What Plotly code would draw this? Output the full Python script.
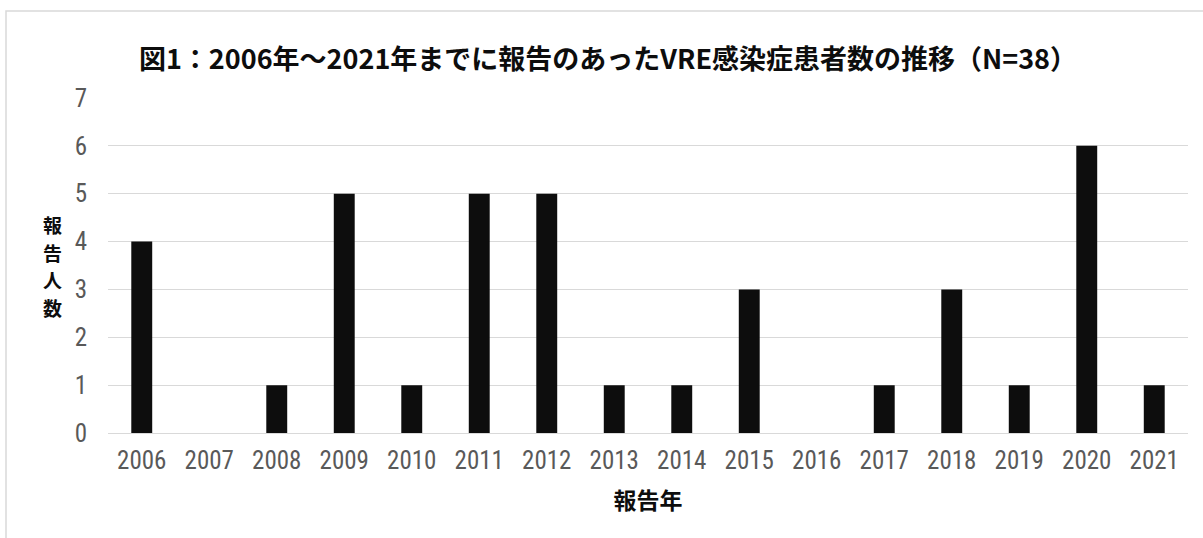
import plotly.graph_objects as go

years = [str(y) for y in range(2006, 2022)]
counts = [4, 0, 1, 5, 1, 5, 5, 1, 1, 3, 0, 1, 3, 1, 6, 1]
y_ticks = [0, 1, 2, 3, 4, 5, 6, 7]

title_text = "図1：2006年～2021年までに報告のあったVRE感染症患者数の推移（N=38）"
x_title = "報告年"
y_title_chars = ["報", "告", "人", "数"]

num_font = "Roboto Condensed, DejaVu Sans Condensed, Roboto, sans-serif"
jp_font = "Noto Sans CJK JP, sans-serif"

fig = go.Figure(go.Bar(x=years, y=counts, marker_color="#0d0d0d",
                       marker_line_width=0))

annotations = []
step = 27.8
for i, ch in enumerate(y_title_chars):
    cy = 266 + (i - 1.5) * step
    annotations.append(dict(text="<b>" + ch + "</b>", xref="paper", yref="paper",
                            x=(52 - 108) / 1080, y=(433 - cy) / 335,
                            xanchor="center", yanchor="middle", showarrow=False,
                            font=dict(family=jp_font, size=19, color="#0d0d0d")))

fig.update_layout(
    width=1203, height=538,
    margin=dict(l=108, r=15, t=98, b=105),
    paper_bgcolor="white", plot_bgcolor="white",
    bargap=0.69,
    showlegend=False,
    title=dict(text="<b>" + title_text + "</b>", xref="container",
               x=608 / 1203, xanchor="center",
               y=1 - 60 / 538, yanchor="middle",
               font=dict(family=jp_font, size=27, color="#0d0d0d")),
    xaxis=dict(type="category", showgrid=False, showline=True,
               linecolor="#d9d9d9", linewidth=1,
               tickfont=dict(family=num_font, size=25, color="#595959"),
               ticklabelstandoff=5,
               title=dict(text="<b>" + x_title + "</b>", standoff=18,
                          font=dict(family=jp_font, size=23, color="#0d0d0d"))),
    yaxis=dict(range=[0, 7], tickvals=y_ticks, showgrid=True,
               gridcolor="#d9d9d9", gridwidth=1, zeroline=False,
               tickfont=dict(family=num_font, size=25, color="#595959"),
               ticklabelstandoff=20),
    annotations=annotations,
    shapes=[dict(type="rect", xref="paper", yref="paper",
                 x0=(6 - 108) / 1080, x1=(1215 - 108) / 1080,
                 y0=(433 - 550) / 335, y1=(433 - 11) / 335,
                 line=dict(color="#d9d9d9", width=1.5), layer="below")],
)

fig.write_html("out.html")
